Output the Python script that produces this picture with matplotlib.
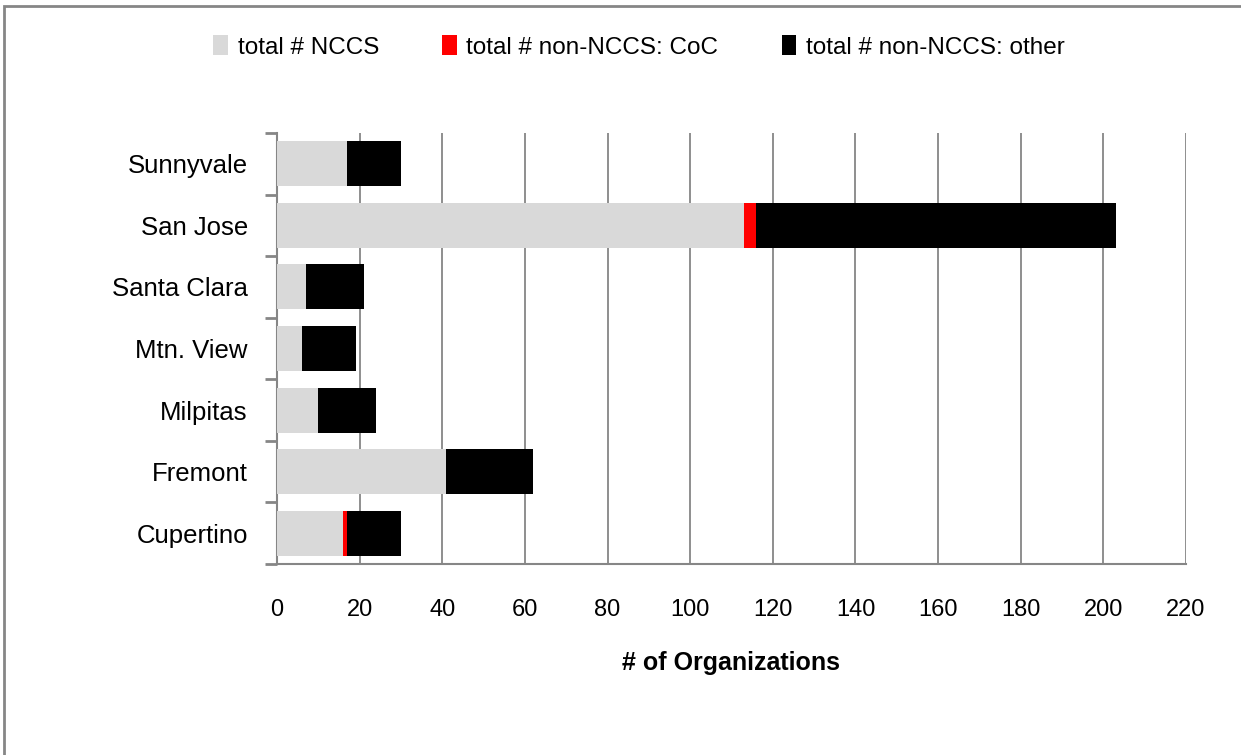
import matplotlib
matplotlib.use("Agg")
import matplotlib.pyplot as plt
import numpy as np
from matplotlib.patches import Rectangle

cities = ["Cupertino", "Fremont", "Milpitas", "Mtn. View", "Santa Clara", "San Jose", "Sunnyvale"]
nccs = [16, 41, 10, 6, 7, 113, 17]
coc = [1, 0, 0, 0, 0, 3, 0]
other = [13, 21, 14, 13, 14, 87, 13]
xticks = [0, 20, 40, 60, 80, 100, 120, 140, 160, 180, 200, 220]

plt.rcParams['font.family'] = ['Liberation Sans', 'DejaVu Sans']

fig = plt.figure(figsize=(12.41, 7.55), dpi=100)
ax = fig.add_axes([277/1241, 1-564/755, (1186-277)/1241, (564-133)/755])

y = np.arange(len(cities))
h = 0.73
nccs_a = np.array(nccs); coc_a = np.array(coc); other_a = np.array(other)
ax.barh(y, nccs_a, height=h, color='#d9d9d9', label='total # NCCS', zorder=3)
ax.barh(y, coc_a, left=nccs_a, height=h, color='#ff0000', label='total # non-NCCS: CoC', zorder=3)
ax.barh(y, other_a, left=nccs_a + coc_a, height=h, color='#000000', label='total # non-NCCS: other', zorder=3)

ax.set_xlim(0, 220)
ax.set_ylim(-0.5, len(cities) - 0.5)
ax.set_xticks(xticks)
ax.set_yticks(y)
ax.set_yticklabels(cities)
ax.set_yticks(np.arange(-0.5, len(cities), 1.0), minor=True)
ax.tick_params(axis='y', which='major', length=0, pad=21, labelsize=18.5)
ax.tick_params(axis='y', which='minor', length=9, width=2, color='#868686', direction='out')
ax.tick_params(axis='x', which='major', length=0, pad=25, labelsize=17)
ax.grid(axis='x', color='#868686', linewidth=1.3, zorder=0)
for s in ['top', 'right']:
    ax.spines[s].set_visible(False)
for s in ['left', 'bottom']:
    ax.spines[s].set_color('#868686')
    ax.spines[s].set_linewidth(1.5)
ax.set_xlabel('# of Organizations', fontsize=18, fontweight='bold', labelpad=22)

leg = fig.legend(loc='center', bbox_to_anchor=(639/1241, 1-47/755), ncol=3, frameon=False,
                 fontsize=17.5, handlelength=0.6, handleheight=0.9, columnspacing=2.6, handletextpad=0.4)

fig.patches.append(Rectangle((4/1241, -0.01), 1.1, 1-6/755+0.01, transform=fig.transFigure,
                             fill=False, edgecolor='#868686', linewidth=2))

fig.savefig('out.png', dpi=100)
